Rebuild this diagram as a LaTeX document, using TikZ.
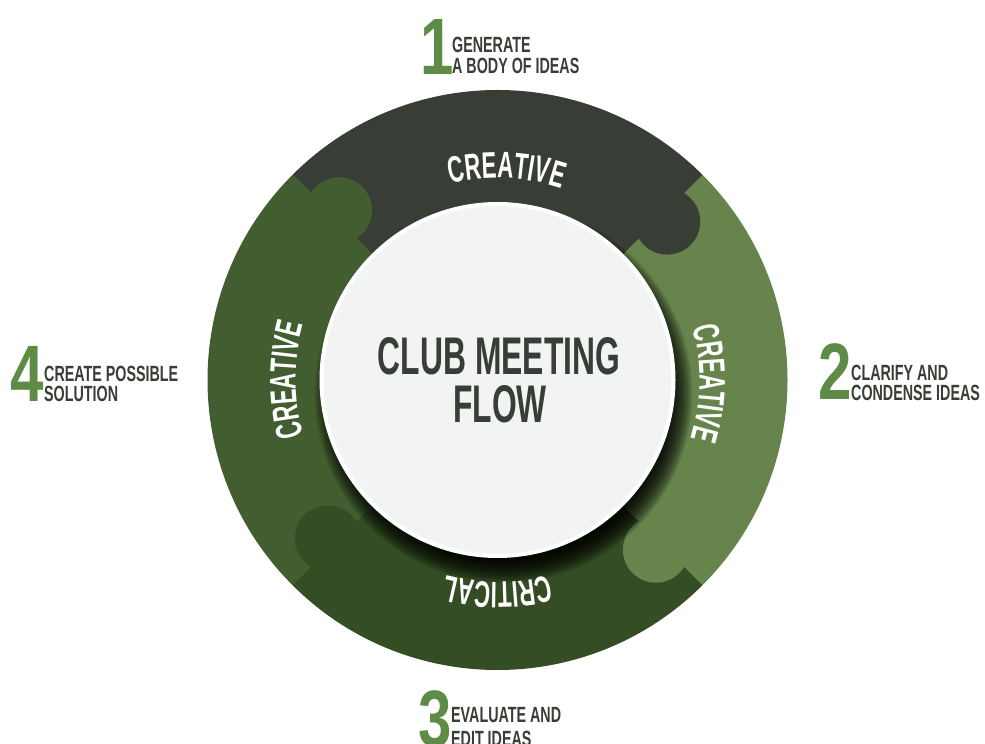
\documentclass[tikz,border=0pt]{standalone}
\usepackage{fontspec}
\usetikzlibrary{decorations.text}

% condensed bold faces for the headings and labels
\newfontfamily\hubfont[FakeStretch=0.60]{Liberation Sans}
\newfontfamily\tagfont[FakeStretch=0.65]{Liberation Sans}
\newfontfamily\digitfont[FakeStretch=0.75]{Liberation Sans}

\definecolor{ctop}{HTML}{383D35}
\definecolor{cright}{HTML}{67844D}
\definecolor{cbottom}{HTML}{354D24}
\definecolor{cleft}{HTML}{425E30}
\definecolor{chub}{HTML}{F2F4F3}
\definecolor{cnum}{HTML}{5E8B46}
\definecolor{cink}{HTML}{383D35}

\newcommand\ringtext{\hubfont\bfseries\fontsize{37}{37}\selectfont\color{white}}

\begin{document}
\begin{tikzpicture}[x=1pt,y=1pt,
  hubtitle/.style={font=\hubfont\bfseries\fontsize{53}{53}\selectfont, text=cink, inner sep=0pt, anchor=base},
  steptag/.style={font=\tagfont\bfseries\fontsize{22}{22}\selectfont, text=cink, inner sep=0pt, anchor=base west},
  stepnum/.style={font=\digitfont\bfseries\fontsize{80}{80}\selectfont, text=cnum, inner sep=0pt, anchor=base west},
  ringlabel/.style={decorate, decoration={text along path, text align=center, text={|\ringtext|#1}}},
  hubdisc/.style={circle, fill=chub, draw=white, line width=4pt, minimum size=352pt, inner sep=0pt}
]
\useasboundingbox (0,0) rectangle (985,744);
\clip (0,0) rectangle (985,744);
\fill[white] (0,0) rectangle (985,744);

\begin{scope}[shift={(497.5,364)}]
  % four quarter pieces of the ring
  \fill[ctop]    (0,0) -- (45:290)  arc[start angle=45,  end angle=135, radius=290] -- cycle;
  \fill[cleft]   (0,0) -- (135:290) arc[start angle=135, end angle=225, radius=290] -- cycle;
  \fill[cbottom] (0,0) -- (225:290) arc[start angle=225, end angle=315, radius=290] -- cycle;
  \fill[cright]  (0,0) -- (-45:290) arc[start angle=-45, end angle=45,  radius=290] -- cycle;

  % puzzle tabs, each reaching into the next piece clockwise
  \fill[ctop]    (169.7,158.4)   circle (33);
  \fill[cleft]   (-158.4,169.7)  circle (33);
  \fill[cbottom] (-169.7,-158.4) circle (33);
  \fill[cright]  (158.4,-169.7)  circle (33);

  % soft drop shadow under the hub
  \foreach \k in {0,...,29}
    \fill[black, opacity=0.07] (6,-14) circle (160+\k);

  % curved ring labels
  \path[ringlabel=CREATIVE] (122.5:202) arc[start angle=122.5, end angle=52.5, radius=202];
  \path[ringlabel=CREATIVE] (34:202)    arc[start angle=34,    end angle=-36,  radius=202];
  \path[ringlabel=CRITICAL] (-55:202)   arc[start angle=-55,   end angle=-125, radius=202];
  \path[ringlabel=CREATIVE] (215:202)   arc[start angle=215,   end angle=145,  radius=202];

  % hub
  \node[hubdisc] (hub) at (0,0) {};
\end{scope}

\node[hubtitle] (title1) at (499,369) {CLUB MEETING};
\node[hubtitle] (title2) at (500,321) {FLOW};

% step 1
\node[stepnum] (num1) at (420,669) {1};
\node[steptag] (tag1a) at (452,691) {GENERATE};
\node[steptag] (tag1b) at (452,670) {A BODY OF IDEAS};
% step 2
\node[stepnum] (num2) at (818,344) {2};
\node[steptag] (tag2a) at (851,363) {CLARIFY AND};
\node[steptag] (tag2b) at (851,343) {CONDENSE IDEAS};
% step 3
\node[stepnum] (num3) at (418,-2) {3};
\node[steptag] (tag3a) at (451,21) {EVALUATE AND};
\node[steptag] (tag3b) at (451,-2) {EDIT IDEAS};
% step 4
\node[stepnum] (num4) at (10,342) {4};
\node[steptag] (tag4a) at (44,362) {CREATE POSSIBLE};
\node[steptag] (tag4b) at (44,342) {SOLUTION};
\end{tikzpicture}
\end{document}
